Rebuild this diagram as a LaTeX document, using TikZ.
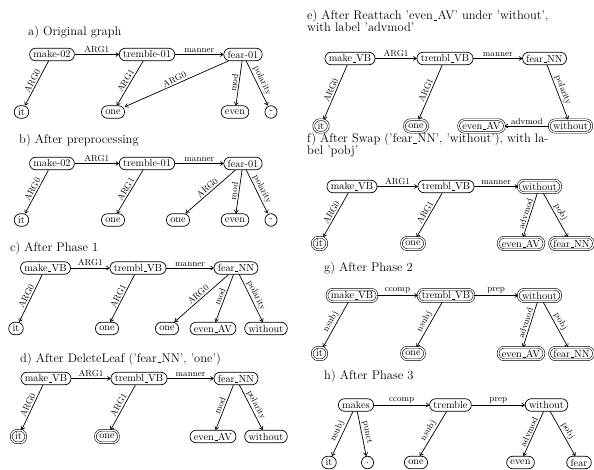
\documentclass[tikz,border=0pt]{standalone}
\usetikzlibrary{arrows.meta}
\newcommand{\usc}{\leavevmode\kern.06em\vbox{\hrule width.3em height 0.45pt}\kern.02em}
\begin{document}
\begin{tikzpicture}[x=1pt,y=-1pt,
  nd/.style={draw, rectangle, rounded corners=6pt, line width=0.7pt, inner xsep=3.8pt, inner ysep=2pt, minimum height=12.5pt, minimum width=12pt, font=\fontsize{10.3}{11}\selectfont},
  dbl/.style={nd, double, double distance=1.3pt, line width=0.55pt},
  ed/.style={-{To[length=3.5pt,width=4.5pt]}, line width=0.7pt},
  lb/.style={font=\fontsize{8.8}{9}\selectfont, inner sep=1.5pt},
  tt/.style={anchor=base west, font=\fontsize{12.5}{13}\selectfont, inner sep=0pt}]
\useasboundingbox (0,0) rectangle (594,470);

% ---------- a) ----------
\node[tt] (ta) at (28,36) {a) Original graph};
\node[nd] (a1) at (52,54.5) {make-02};
\node[nd] (a2) at (147,54.5) {tremble-01};
\node[nd] (a3) at (243,54.5) {fear-01};
\node[nd] (a4) at (21.5,112) {it};
\node[nd] (a5) at (113,112) {one};
\node[nd] (a6) at (235,112) {even};
\node[nd] (a7) at (271,112) {-};
\draw[ed] (a1) -- node[lb,above]{ARG1} (a2);
\draw[ed] (a2) -- node[lb,above]{manner} (a3);
\draw[ed] (a1) -- node[lb,sloped,above]{ARG0} (a4);
\draw[ed] (a2) -- node[lb,sloped,above]{ARG1} (a5);
\draw[ed] (a3) -- node[lb,sloped,above]{ARG0} (a5);
\draw[ed] (a3) -- node[lb,sloped,above]{mod} (a6);
\draw[ed] (a3) -- node[lb,sloped,above]{polarity} (a7);

% ---------- b) ----------
\node[tt] (tb) at (19,144) {b) After preprocessing};
\node[nd] (b1) at (52,163.5) {make-02};
\node[nd] (b2) at (147,163.5) {tremble-01};
\node[nd] (b3) at (243,163.5) {fear-01};
\node[nd] (b4) at (21.5,220) {it};
\node[nd] (b5) at (113,220) {one};
\node[nd] (b6) at (178,220) {one};
\node[nd] (b7) at (235,220) {even};
\node[nd] (b8) at (271,220) {-};
\draw[ed] (b1) -- node[lb,above]{ARG1} (b2);
\draw[ed] (b2) -- node[lb,above]{manner} (b3);
\draw[ed] (b1) -- node[lb,sloped,above]{ARG0} (b4);
\draw[ed] (b2) -- node[lb,sloped,above]{ARG1} (b5);
\draw[ed] (b3) -- node[lb,sloped,above]{ARG0} (b6);
\draw[ed] (b3) -- node[lb,sloped,above]{mod} (b7);
\draw[ed] (b3) -- node[lb,sloped,above]{polarity} (b8);

% ---------- c) ----------
\node[tt] (tc) at (10,252) {c) After Phase 1};
\node[nd] (c1) at (45.5,268) {make\usc VB};
\node[nd] (c2) at (138,268) {trembl\usc VB};
\node[nd] (c3) at (236,268) {fear\usc NN};
\node[nd] (c4) at (16,328.5) {it};
\node[nd] (c5) at (107,328.5) {one};
\node[nd] (c6) at (167,328.5) {one};
\node[nd] (c7) at (213,328.5) {even\usc AV};
\node[nd] (c8) at (266,328.5) {without};
\draw[ed] (c1) -- node[lb,above]{ARG1} (c2);
\draw[ed] (c2) -- node[lb,above]{manner} (c3);
\draw[ed] (c1) -- node[lb,sloped,above]{ARG0} (c4);
\draw[ed] (c2) -- node[lb,sloped,above]{ARG1} (c5);
\draw[ed] (c3) -- node[lb,sloped,above]{ARG0} (c6);
\draw[ed] (c3) -- node[lb,sloped,above]{mod} (c7);
\draw[ed] (c3) -- node[lb,sloped,above]{polarity} (c8);

% ---------- d) ----------
\node[tt] (td) at (20,362) {d) After DeleteLeaf ('fear\usc NN', 'one')};
\node[nd] (d1) at (46,378.5) {make\usc VB};
\node[nd] (d2) at (139,378.5) {trembl\usc VB};
\node[nd] (d3) at (236,378.5) {fear\usc NN};
\node[dbl] (d4) at (18.5,436.5) {it};
\node[dbl] (d5) at (107,436.5) {one};
\node[nd] (d7) at (213,436.5) {even\usc AV};
\node[nd] (d8) at (266,436.5) {without};
\draw[ed] (d1) -- node[lb,above]{ARG1} (d2);
\draw[ed] (d2) -- node[lb,above]{manner} (d3);
\draw[ed] (d1) -- node[lb,sloped,above]{ARG0} (d4);
\draw[ed] (d2) -- node[lb,sloped,above]{ARG1} (d5);
\draw[ed] (d3) -- node[lb,sloped,above]{mod} (d7);
\draw[ed] (d3) -- node[lb,sloped,above]{polarity} (d8);

% ---------- e) ----------
\node[tt] (te) at (307,20) {e) After Reattach 'even\usc AV' under 'without',};
\node[tt] (te2) at (307,32) {with label 'advmod'};
\node[nd] (e1) at (350,58.5) {make\usc VB};
\node[nd] (e2) at (445,58.5) {trembl\usc VB};
\node[nd] (e3) at (544.5,58.5) {fear\usc NN};
\node[dbl] (e4) at (321,126) {it};
\node[dbl] (e5) at (416,126) {one};
\node[dbl] (e6) at (481.5,126) {even\usc AV};
\node[dbl] (e7) at (570.5,126) {without};
\draw[ed] (e1) -- node[lb,above]{ARG1} (e2);
\draw[ed] (e2) -- node[lb,above]{manner} (e3);
\draw[ed] (e1) -- node[lb,sloped,above]{ARG0} (e4);
\draw[ed] (e2) -- node[lb,sloped,above]{ARG1} (e5);
\draw[ed] (e3) -- node[lb,sloped,above]{polarity} (e7);
\draw[ed] (e7) -- node[lb,above]{advmod} (e6);

% ---------- f) ----------
\node[tt] (tf) at (307,143) {f) After Swap ('fear\usc NN', 'without'), with la-};
\node[tt] (tf2) at (307,155) {bel 'pobj'};
\node[nd] (f1) at (352,186.5) {make\usc VB};
\node[nd] (f2) at (446,186.5) {trembl\usc VB};
\node[dbl] (f3) at (539.5,186.5) {without};
\node[dbl] (f4) at (319.5,243.5) {it};
\node[dbl] (f5) at (413,243.5) {one};
\node[dbl] (f6) at (521,243.5) {even\usc AV};
\node[dbl] (f7) at (571.5,243.5) {fear\usc NN};
\draw[ed] (f1) -- node[lb,above]{ARG1} (f2);
\draw[ed] (f2) -- node[lb,above]{manner} (f3);
\draw[ed] (f1) -- node[lb,sloped,above]{ARG0} (f4);
\draw[ed] (f2) -- node[lb,sloped,above]{ARG1} (f5);
\draw[ed] (f3) -- node[lb,sloped,above]{advmod} (f6);
\draw[ed] (f3) -- node[lb,sloped,above]{pobj} (f7);

% ---------- g) ----------
\node[tt] (tg) at (324,272) {g) After Phase 2};
\node[dbl] (g1) at (352,295.5) {make\usc VB};
\node[dbl] (g2) at (446,295.5) {trembl\usc VB};
\node[dbl] (g3) at (539.5,295.5) {without};
\node[dbl] (g4) at (319.5,353.5) {it};
\node[dbl] (g5) at (413,353.5) {one};
\node[dbl] (g6) at (521,353.5) {even\usc AV};
\node[dbl] (g7) at (571.5,353.5) {fear\usc NN};
\draw[ed] (g1) -- node[lb,above]{ccomp} (g2);
\draw[ed] (g2) -- node[lb,above]{prep} (g3);
\draw[ed] (g1) -- node[lb,sloped,above]{nsubj} (g4);
\draw[ed] (g2) -- node[lb,sloped,above]{nsubj} (g5);
\draw[ed] (g3) -- node[lb,sloped,above]{advmod} (g6);
\draw[ed] (g3) -- node[lb,sloped,above]{pobj} (g7);

% ---------- h) ----------
\node[tt] (th) at (324,379) {h) After Phase 3};
\node[nd] (h1) at (356,405) {makes};
\node[nd] (h2) at (450.5,405) {tremble};
\node[nd] (h3) at (546.5,405) {without};
\node[nd] (h4) at (329,462.5) {it};
\node[nd] (h5) at (367.5,462.5) {.};
\node[nd] (h6) at (416,462.5) {one};
\node[nd] (h7) at (520.5,462.5) {even};
\node[nd] (h8) at (579,462.5) {fear};
\draw[ed] (h1) -- node[lb,above]{ccomp} (h2);
\draw[ed] (h2) -- node[lb,above]{prep} (h3);
\draw[ed] (h1) -- node[lb,sloped,above]{nsubj} (h4);
\draw[ed] (h1) -- node[lb,sloped,above]{punct} (h5);
\draw[ed] (h2) -- node[lb,sloped,above]{nsubj} (h6);
\draw[ed] (h3) -- node[lb,sloped,above]{advmod} (h7);
\draw[ed] (h3) -- node[lb,sloped,above]{pobj} (h8);
\end{tikzpicture}
\end{document}
